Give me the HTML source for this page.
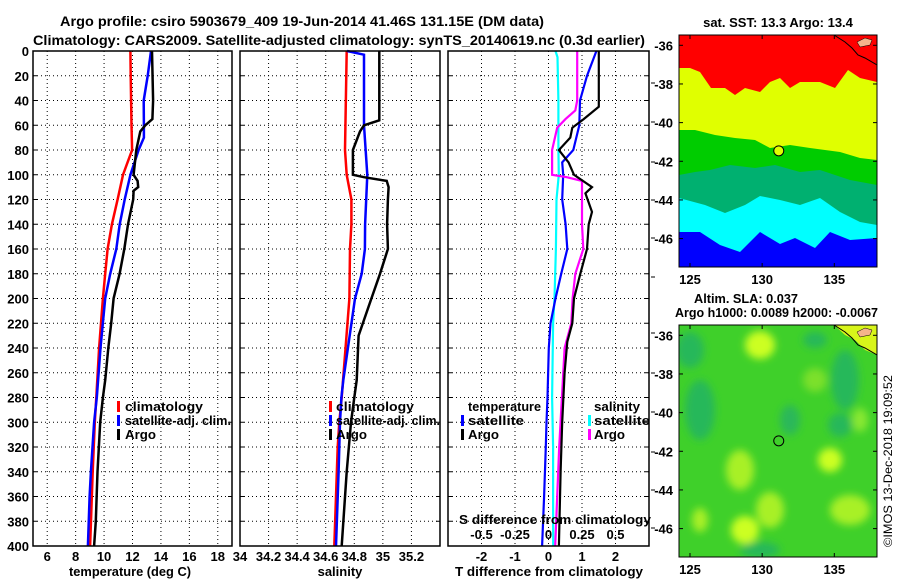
<!DOCTYPE html>
<html><head><meta charset="utf-8">
<style>
html,body{margin:0;padding:0;background:#fff;}
svg{display:block;font-family:"Liberation Sans",Arial,sans-serif;font-weight:bold;}
text{font-size:13px;fill:#000;}
.t{font-size:14px;}
</style></head>
<body>
<svg id="fig" width="900" height="580" viewBox="0 0 900 580" xmlns="http://www.w3.org/2000/svg">
<text class="t" x="60" y="26" textLength="484" lengthAdjust="spacingAndGlyphs">Argo profile: csiro 5903679_409 19-Jun-2014 41.46S 131.15E (DM data)</text>
<text class="t" x="33" y="45" textLength="612" lengthAdjust="spacingAndGlyphs">Climatology: CARS2009. Satellite-adjusted climatology: synTS_20140619.nc (0.3d earlier)</text>
<g id="plots"></g>
<g id="maps"></g>
</svg>
<script>
// ---- data ----
const depthTicks = [0,20,40,60,80,100,120,140,160,180,200,220,240,260,280,300,320,340,360,380,400];
const tempTicks = [6,8,10,12,14,16,18];
const salTicks = [34,34.2,34.4,34.6,34.8,35,35.2];
const salTickLabels = ["34","34.2","34.4","34.6","34.8","35","35.2"];
const dTTicks = [-2,-1,0,1,2];
const dSTicks = [-0.5,-0.25,0,0.25,0.5];

const tempClimDepth = [0,20,40,60,70,80,100,120,140,160,180,200,240,280,300,340,400];
const tempClim = [11.85,11.87,11.9,11.93,11.95,11.97,11.33,10.95,10.55,10.25,10.08,9.92,9.65,9.45,9.35,9.2,9.02];
const tempSatDepth = [0,20,40,60,70,80,100,120,140,160,180,200,240,280,300,340,360,400];
const tempSat = [13.3,13.07,12.79,12.8,12.8,12.43,11.85,11.45,11.1,10.86,10.43,10.08,9.75,9.49,9.3,9.07,8.98,8.86];
const tempArgoDepth = [0,40,55,60,65,80,100,105,110,113,120,140,160,180,200,220,240,266,280,300,340,380,400];
const tempArgo = [13.37,13.45,13.4,12.9,12.55,12.27,12.08,12.36,12.4,12.08,12.05,11.68,11.42,11.09,10.67,10.5,10.3,10.08,9.92,9.73,9.54,9.42,9.3];

const salClimDepth = [0,80,100,120,140,160,200,280,300,320,360,400];
const salClim = [34.747,34.735,34.747,34.78,34.78,34.77,34.766,34.712,34.695,34.684,34.672,34.66];
const salSatDepth = [0,3,60,100,140,160,180,200,266,280,300,340,400];
const salSat = [34.75,34.868,34.868,34.891,34.876,34.874,34.852,34.805,34.723,34.71,34.7,34.69,34.672];
const salArgoDepth = [0,56,60,65,80,100,102,105,110,120,140,160,180,200,230,266,280,300,340,400];
const salArgo = [34.975,34.975,34.868,34.84,34.79,34.79,34.868,35.027,35.04,35.035,35.03,35.035,34.98,34.92,34.83,34.817,34.8,34.777,34.747,34.712];

const dTSatDepth = [0,20,40,60,80,90,100,120,140,160,180,200,220,240,280,300,320,360,400];
const dTSat = [1.43,1.15,0.94,0.92,0.74,0.41,0.44,0.41,0.51,0.56,0.38,0.21,0.06,0.01,-0.03,-0.06,-0.08,-0.13,-0.19];
const dTArgoDepth = [0,40,45,55,62,70,80,90,100,110,115,130,140,160,180,200,220,235,260,300,340,400];
const dTArgo = [1.5,1.5,1.5,1.05,0.71,0.65,0.31,0.6,0.76,1.3,1.1,1.3,1.2,1.15,0.95,0.76,0.71,0.56,0.48,0.41,0.36,0.31];
const dSArgoDepth = [0,40,48,55,62,80,100,102,105,120,140,160,180,200,220,240,280,320,360,400];
const dSArgo = [0.214,0.214,0.2,0.127,0.065,0.027,0.027,0.136,0.25,0.25,0.25,0.26,0.2,0.18,0.17,0.12,0.1,0.08,0.065,0.05];
const dSSatDepth = [0,5,40,80,100,120,160,200,220,280,320,360,400];
const dSSat = [0.052,0.067,0.074,0.074,0.077,0.06,0.055,0.045,0.034,0.027,0.034,0.034,0.035];

const latTicks = [-36,-38,-40,-42,-44,-46];
const lonTicks = [125,130,135];
const argoLon = 131.15, argoLat = -41.46;

// ---- helpers ----
const NS = "http://www.w3.org/2000/svg";
const plots = document.getElementById('plots');
const maps = document.getElementById('maps');
function mk(tag, attrs, parent){const e=document.createElementNS(NS,tag);for(const k in attrs)e.setAttribute(k,attrs[k]);(parent||plots).appendChild(e);return e;}
const Y0 = 51, Y1 = 546;
function yD(d){return Y0 + (d/400)*(Y1-Y0);}
function xScale(x0,x1,v0,v1){return v=>x0+(v-v0)/(v1-v0)*(x1-x0);}

const pT = {x0:33,x1:232,sx:xScale(33,232,5,19)};
const pS = {x0:240,x1:440,sx:xScale(240,440,34,35.4)};
const pD = {x0:448,x1:649,sx:xScale(448,649,-3,3)};
const sxDS = xScale(448,649,-0.75,0.75);

function frame(p,name){
  const g=mk('g',{});
  
  
  depthTicks.forEach(d=>{
    const y=yD(d);
    if(d>0&&d<400){const l=mk('line',{x1:p.x0,x2:p.x1,y1:y,y2:y,stroke:'#000','stroke-width':1,'stroke-dasharray':'1,3'},g);
      }
    mk('line',{x1:p.x0,x2:p.x0+4,y1:y,y2:y,stroke:'#000'},g);
    mk('line',{x1:p.x1-4,x2:p.x1,y1:y,y2:y,stroke:'#000'},g);
  });
  return g;
}
function vgrid(g,x){const l=mk('line',{x1:x,x2:x,y1:Y0,y2:Y1,stroke:'#000','stroke-width':1,'stroke-dasharray':'1,3'},g);
  }
function border(g,p){const r=mk('rect',{x:p.x0,y:Y0,width:p.x1-p.x0,height:Y1-Y0,fill:'none',stroke:'#000','stroke-width':1.5},g);
  }
function series(g,sx,depths,vals,color,w,name){
  const pts=vals.map((v,i)=>sx(v).toFixed(1)+','+yD(depths[i]).toFixed(1)).join(' ');
  const l=mk('polyline',{points:pts,fill:'none',stroke:color,'stroke-width':w,'stroke-linejoin':'miter'},g);
  
  
}
function txt(g,x,y,s,anchor,name,len){const t=mk('text',{x:x,y:y,'text-anchor':anchor||'start'},g);
  if(len){t.setAttribute('textLength',len);t.setAttribute('lengthAdjust','spacingAndGlyphs');}
  t.textContent=s;
  return t;}
function legendMark(g,x,y,color,name){const r=mk('rect',{x:x,y:y-10,width:3,height:11,fill:color},g);
  }

depthTicks.forEach(d=>{txt(plots,29,yD(d)+5,String(d),'end','depth-tick-label');});

// Panel 1: temperature
let g1=frame(pT,'temperature-panel');
tempTicks.forEach(v=>{vgrid(g1,pT.sx(v));txt(g1,pT.sx(v),561,String(v),'middle','temperature-tick-label');});
series(g1,pT.sx,tempClimDepth,tempClim,'#ff0000',2.5,'temperature-climatology-line');
series(g1,pT.sx,tempSatDepth,tempSat,'#0000ff',2.5,'temperature-satellite-line');
series(g1,pT.sx,tempArgoDepth,tempArgo,'#000000',2.5,'temperature-argo-line');
border(g1,pT);
legendMark(g1,117,411,'#ff0000','legend-climatology-marker');txt(g1,125,411,'climatology','start','legend-climatology',78);
legendMark(g1,117,425,'#0000ff','legend-satellite-marker');txt(g1,125,425,'satellite-adj. clim.','start','legend-satellite-adj',106);
legendMark(g1,117,439,'#000000','legend-argo-marker');txt(g1,125,439,'Argo','start','legend-argo',31);
txt(g1,130,576,'temperature (deg C)','middle','temperature-axis-title',122);

// Panel 2: salinity
let g2=frame(pS,'salinity-panel');
salTicks.forEach((v,i)=>{if(i>0)vgrid(g2,pS.sx(v));txt(g2,pS.sx(v),561,salTickLabels[i],'middle','salinity-tick-label');});
series(g2,pS.sx,salClimDepth,salClim,'#ff0000',2.5,'salinity-climatology-line');
series(g2,pS.sx,salSatDepth,salSat,'#0000ff',2.5,'salinity-satellite-line');
series(g2,pS.sx,salArgoDepth,salArgo,'#000000',2.5,'salinity-argo-line');
border(g2,pS);
legendMark(g2,329,411,'#ff0000','legend-climatology-marker');txt(g2,336,411,'climatology','start','legend-climatology',78);
legendMark(g2,329,425,'#0000ff','legend-satellite-marker');txt(g2,336,425,'satellite-adj. clim.','start','legend-satellite-adj',104);
legendMark(g2,329,439,'#000000','legend-argo-marker');txt(g2,336,439,'Argo','start','legend-argo',31);
txt(g2,340,576,'salinity','middle','salinity-axis-title');

// Panel 3: differences
let g3=frame(pD,'difference-panel');
dTTicks.forEach(v=>{vgrid(g3,pD.sx(v));txt(g3,pD.sx(v),561,String(v),'middle','t-diff-tick-label');});
series(g3,sxDS,dSSatDepth,dSSat,'#00ffff',2.2,'salinity-diff-satellite-line');
series(g3,pD.sx,dTSatDepth,dTSat,'#0000ff',2.2,'temperature-diff-satellite-line');
series(g3,sxDS,dSArgoDepth,dSArgo,'#ff00ff',2.2,'salinity-diff-argo-line');
series(g3,pD.sx,dTArgoDepth,dTArgo,'#000000',2.2,'temperature-diff-argo-line');
border(g3,pD);
[83,122,162,200,238,277,333,373,412,452,490,528].forEach(y=>mk('line',{x1:651,x2:655,y1:y,y2:y,stroke:'#000'},g3));
txt(g3,468,411,'temperature','start','legend-temperature-heading',73);
legendMark(g3,461,425,'#0000ff','legend-t-satellite-marker');txt(g3,468,425,'satellite','start','legend-t-satellite',56);
legendMark(g3,461,439,'#000000','legend-t-argo-marker');txt(g3,468,439,'Argo','start','legend-t-argo',31);
txt(g3,594,411,'salinity','start','legend-salinity-heading',46);
legendMark(g3,588,425,'#00ffff','legend-s-satellite-marker');txt(g3,594,425,'satellite','start','legend-s-satellite',56);
legendMark(g3,588,439,'#ff00ff','legend-s-argo-marker');txt(g3,594,439,'Argo','start','legend-s-argo',31);
txt(g3,459,524,'S difference from climatology','start','s-diff-axis-title',192);
dSTicks.forEach(v=>txt(g3,sxDS(v),539,String(v),'middle','s-diff-tick-label'));
txt(g3,455,576,'T difference from climatology','start','t-diff-axis-title',188);

// ---- maps ----
const MX0=679, MX1=877;
const lonX=v=>690+(v-125)*14.43;
function mapAxes(name){
  const g=mk('g',{},maps);
  
  return g;
}
function latY(top,v){return top+10.3+(-36-v)*19.33;}

// top SST map
const gA=mapAxes('sst-map');
const clipA=mk('clipPath',{id:'ca'},gA);mk('rect',{x:MX0,y:35,width:MX1-MX0,height:232},clipA);
const A=mk('g',{'clip-path':'url(#ca)'},gA);
mk('rect',{x:MX0,y:35,width:198,height:232,fill:'#0000ff'},A);
mk('polygon',{points:'679,35 877,35 877,238 850,240 830,232 815,248 795,238 780,244 760,232 740,252 720,245 700,232 679,232',fill:'#00ffff'},A);
mk('polygon',{points:'679,35 877,35 877,225 860,222 840,212 820,198 800,205 780,200 760,196 745,205 725,213 705,205 679,198',fill:'#00b070'},A);
mk('polygon',{points:'679,35 877,35 877,185 850,180 820,170 800,172 775,165 755,168 730,165 710,170 695,172 679,175',fill:'#00cc00'},A);
mk('polygon',{points:'679,35 877,35 877,160 860,158 840,152 825,150 810,148 790,145 770,148 755,140 735,138 715,135 695,130 679,130',fill:'#e0ff00'},A);
mk('polygon',{points:'679,35 877,35 877,82 860,78 848,70 835,88 820,82 800,82 790,88 780,78 770,82 760,92 745,88 735,95 725,88 711,88 700,72 690,68 679,68',fill:'#ff0000'},A);
mk('path',{d:'M834,35 L845,42 L852,48 L858,55 L865,58 L877,65',fill:'none',stroke:'#000','stroke-width':1},A);
mk('path',{d:'M857,42 L865,38 L872,40 L870,45 L860,47 Z',fill:'#f5b48c',stroke:'#000','stroke-width':0.5},A);
const cA=mk('circle',{cx:lonX(argoLon),cy:latY(35,argoLat),r:5,fill:'#e0ff00',stroke:'#000','stroke-width':1},gA);

mk('rect',{x:MX0,y:35,width:198,height:232,fill:'none',stroke:'#000','stroke-width':1},gA);
txt(gA,778,27,'sat. SST: 13.3 Argo: 13.4','middle','sst-map-title');

// bottom SLA map
const gB=mapAxes('sla-map');
const defs=mk('defs',{},gB);
const f=mk('filter',{id:'bl'},defs);mk('feGaussianBlur',{stdDeviation:4},f);
const clipB=mk('clipPath',{id:'cb'},gB);mk('rect',{x:MX0,y:325,width:198,height:232},clipB);
const B=mk('g',{'clip-path':'url(#cb)'},gB);
mk('rect',{x:MX0,y:325,width:198,height:232,fill:'#3fd02a'},B);
const BB=mk('g',{filter:'url(#bl)'},B);
[[690,350,14,18,'#28b85a'],[760,345,15,14,'#ccff22'],[815,340,12,8,'#28b85a'],[700,410,15,30,'#28b85a'],[790,420,10,15,'#2ab85a'],[845,380,14,30,'#28b85a'],[860,420,8,12,'#88e830'],[830,460,12,12,'#ccff22'],[740,470,14,20,'#a8f028'],[770,510,14,18,'#a8f028'],[745,530,14,14,'#ccff22'],[850,510,20,15,'#a8f028'],[700,520,8,12,'#a8f028'],[760,550,20,8,'#28b85a'],[815,380,12,12,'#7ce02a'],[840,425,12,12,'#28b85a']].forEach(e=>mk('ellipse',{cx:e[0],cy:e[1],rx:e[2],ry:e[3],fill:e[4]},BB));
mk('polygon',{points:'834,325 877,325 877,355 865,350 855,340 845,335',fill:'#d8f51a'},B);
mk('path',{d:'M834,325 L845,332 L852,338 L858,345 L865,348 L877,355',fill:'none',stroke:'#000','stroke-width':1},B);
mk('path',{d:'M857,332 L865,328 L872,330 L870,335 L860,337 Z',fill:'#f5b48c',stroke:'#000','stroke-width':0.5},B);
const cB=mk('circle',{cx:lonX(argoLon),cy:latY(325,argoLat),r:5,fill:'none',stroke:'#000','stroke-width':1},gB);

mk('rect',{x:MX0,y:325,width:198,height:232,fill:'none',stroke:'#000','stroke-width':1},gB);
txt(gB,746,303,'Altim. SLA: 0.037','middle','sla-map-title',104);
txt(gB,675,317,'Argo h1000: 0.0089 h2000: -0.0067','start','sla-map-subtitle',203);

[[35,gA],[325,gB]].forEach(([top,g])=>{
  latTicks.forEach(v=>{const y=latY(top,v);
    mk('line',{x1:MX0,x2:MX0+4,y1:y,y2:y,stroke:'#000'},g);mk('line',{x1:MX1-4,x2:MX1,y1:y,y2:y,stroke:'#000'},g);
    txt(g,673,y+5,String(v),'end','latitude-tick-label');});
  lonTicks.forEach(v=>{const x=lonX(v);
    mk('line',{x1:x,x2:x,y1:top,y2:top+4,stroke:'#000'},g);mk('line',{x1:x,x2:x,y1:top+228,y2:top+232,stroke:'#000'},g);
    txt(g,x,top+249,String(v),'middle','longitude-tick-label');});
});
const cr=txt(maps,0,0,'©IMOS 13-Dec-2018 19:09:52','start','copyright-stamp',172);
cr.setAttribute('transform','translate(892,547) rotate(-90)');
cr.style.fontWeight='normal';cr.style.fontSize='12px';
</script>
</body></html>
